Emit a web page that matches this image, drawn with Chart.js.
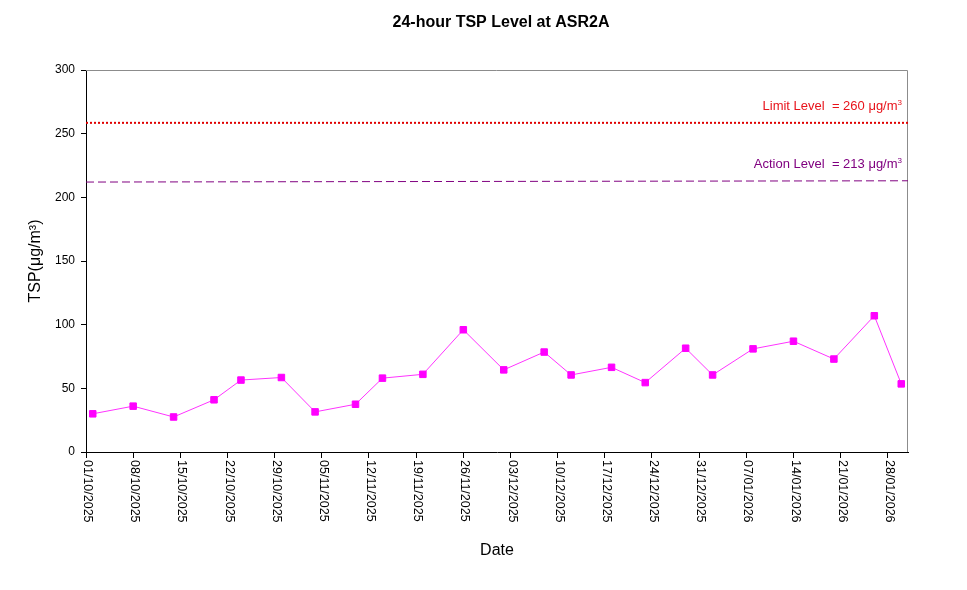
<!DOCTYPE html>
<html>
<head>
<meta charset="utf-8">
<script src="https://cdn.jsdelivr.net/npm/chart.js@4.4.1/dist/chart.umd.min.js"></script>
<style>
html,body{margin:0;padding:0;background:#fff;}
#wrap{width:967px;height:590px;position:relative;}
canvas{display:block;}
</style>
</head>
<body>
<div id="wrap"><canvas id="c" width="967" height="590" style="width:967px;height:590px;"></canvas></div>
<script>
// ---- data ----
const chartTitle = "24-hour TSP Level at ASR2A";
const xAxisTitle = "Date";
const yAxisTitle = "TSP(\u03bcg/m\u00b3)";

const sampleDates = [
  "02/10/2025","08/10/2025","14/10/2025","20/10/2025","24/10/2025","30/10/2025",
  "04/11/2025","10/11/2025","14/11/2025","20/11/2025","26/11/2025",
  "02/12/2025","08/12/2025","12/12/2025","18/12/2025","23/12/2025","29/12/2025",
  "02/01/2026","08/01/2026","14/01/2026","20/01/2026","26/01/2026","30/01/2026"
];
const tspValues = [
  30, 36, 27.5, 41, 56.5, 58.5,
  31.5, 37.5, 58, 61, 96,
  64.5, 78.5, 60.5, 66.5, 54.5, 81.5,
  60.5, 81, 87, 73, 107, 53.5
];

const tickDates = [
  "01/10/2025","08/10/2025","15/10/2025","22/10/2025","29/10/2025",
  "05/11/2025","12/11/2025","19/11/2025","26/11/2025",
  "03/12/2025","10/12/2025","17/12/2025","24/12/2025","31/12/2025",
  "07/01/2026","14/01/2026","21/01/2026","28/01/2026"
];
const axisStartDate = "01/10/2025";
const axisEndDate = "31/01/2026";

const yTickValues = [0, 50, 100, 150, 200, 250, 300];

// level lines as drawn in the picture (start / end of axis)
const limitLine = [258.5, 258.5];
const actionLine = [212, 213];
const limitLabelText = "Limit Level  = 260 \u03bcg/m";
const actionLabelText = "Action Level  = 213 \u03bcg/m";
const labelSup = "3";

// ---- helpers ----
const DAY = 86400000;
const origin = Date.UTC(2025, 9, 1);
function dayOf(s) {
  const [d, m, y] = s.split("/").map(Number);
  return Math.round((Date.UTC(y, m - 1, d) - origin) / DAY);
}
const FONT = "'Liberation Sans', Arial, Helvetica, sans-serif";
Chart.defaults.font.family = FONT;
Chart.defaults.color = "#000";

const seriesPoints = sampleDates.map((d, i) => ({ x: dayOf(d), y: tspValues[i] }));
const xMin = dayOf(axisStartDate), xMax = dayOf(axisEndDate);
const limitPoints = [{ x: xMin, y: limitLine[0] }, { x: xMax, y: limitLine[1] }];
const actionPoints = [{ x: xMin, y: actionLine[0] }, { x: xMax, y: actionLine[1] }];

function drawWithSup(ctx, text, sup, rightX, baseY, color, size) {
  ctx.save();
  ctx.fillStyle = color;
  ctx.textBaseline = "alphabetic";
  ctx.textAlign = "left";
  ctx.font = size + "px " + FONT;
  const w1 = ctx.measureText(text).width;
  ctx.font = Math.round(size * 0.65) + "px " + FONT;
  const w2 = ctx.measureText(sup).width;
  const x0 = rightX - w1 - w2;
  ctx.font = size + "px " + FONT;
  ctx.fillText(text, x0, baseY);
  ctx.font = Math.round(size * 0.65) + "px " + FONT;
  ctx.fillText(sup, x0 + w1, baseY - size * 0.4);
  ctx.restore();
}

const decor = {
  id: "decor",
  beforeDatasetsDraw(chart) {
    const { ctx, chartArea: a } = chart;
    ctx.save();
    ctx.strokeStyle = "#8c8c8c";
    ctx.lineWidth = 1;
    ctx.beginPath();
    ctx.moveTo(a.left, Math.round(a.top) + 0.5);
    ctx.lineTo(Math.round(a.right) - 0.5, Math.round(a.top) + 0.5);
    ctx.lineTo(Math.round(a.right) - 0.5, a.bottom);
    ctx.stroke();
    ctx.restore();
  },
  afterDraw(chart) {
    const { ctx, chartArea: a } = chart;
    const xs = chart.scales.x, ys = chart.scales.y;
    ctx.save();
    ctx.font = "bold 16px " + FONT;
    ctx.fillStyle = "#000";
    ctx.textAlign = "center";
    ctx.textBaseline = "alphabetic";
    ctx.fillText(chartTitle, 501, 27);
    ctx.restore();
    ctx.save();
    ctx.font = "12.5px " + FONT;
    ctx.fillStyle = "#000";
    ctx.textAlign = "left";
    ctx.textBaseline = "middle";
    tickDates.forEach(d => {
      const px = xs.getPixelForValue(dayOf(d));
      ctx.save();
      ctx.translate(px + 1.5, a.bottom + 8);
      ctx.rotate(Math.PI / 2);
      ctx.fillText(d, 0, 0);
      ctx.restore();
    });
    ctx.restore();
    const limY = ys.getPixelForValue(limitLine[1]);
    const actY = ys.getPixelForValue(actionLine[1]);
    drawWithSup(ctx, limitLabelText, labelSup, a.right - 6, limY - 13, "#e8131b", 13);
    drawWithSup(ctx, actionLabelText, labelSup, a.right - 6, actY - 13, "#800080", 13);
  }
};

new Chart(document.getElementById("c"), {
  type: "line",
  data: {
    datasets: [
      {
        label: "TSP",
        data: seriesPoints,
        borderColor: "#ff33ff",
        backgroundColor: "#ff00ff",
        borderWidth: 1,
        pointStyle: "rect",
        pointRadius: 4.6,
        pointBorderWidth: 1,
        pointBorderColor: "#ff00ff",
        pointBackgroundColor: "#ff00ff",
        tension: 0,
        order: 1
      },
      {
        label: "Limit",
        data: limitPoints,
        borderColor: "#e00000",
        borderWidth: 2,
        borderDash: [2, 2],
        pointRadius: 0,
        order: 2
      },
      {
        label: "Action",
        data: actionPoints,
        borderColor: "#800080",
        borderWidth: 1,
        borderDash: [8, 4],
        pointRadius: 0,
        order: 3
      }
    ]
  },
  options: {
    responsive: false,
    animation: false,
    devicePixelRatio: 1,
    layout: { padding: { left: 0, right: 59, top: 70, bottom: 0 } },
    plugins: {
      legend: { display: false },
      tooltip: { enabled: false },
      title: { display: false }
    },
    scales: {
      x: {
        type: "linear",
        min: xMin,
        max: xMax,
        afterBuildTicks: s => { s.ticks = tickDates.map(d => ({ value: dayOf(d) })); },
        afterFit: s => { s.height = 138; s.paddingLeft = 0; s.paddingRight = 0; },
        ticks: { display: false },
        grid: { drawOnChartArea: false, drawTicks: true, tickLength: 6, color: "#000", lineWidth: 1 },
        border: { color: "#000", width: 1 },
        title: { display: true, text: xAxisTitle, color: "#000", font: { size: 16 }, padding: { top: 0, bottom: 29.4 } }
      },
      y: {
        type: "linear",
        min: 0,
        max: 300,
        afterBuildTicks: s => { s.ticks = yTickValues.map(v => ({ value: v })); },
        afterFit: s => { s.width = 86; s.paddingTop = 0; s.paddingBottom = 0; },
        ticks: { font: { size: 12 }, color: "#000", padding: 6 },
        grid: { drawOnChartArea: false, drawTicks: true, tickLength: 5, color: "#000", lineWidth: 1 },
        border: { color: "#000", width: 1 },
        title: { display: true, text: yAxisTitle, color: "#000", font: { size: 16 }, padding: { top: 26.4, bottom: 0 } }
      }
    }
  },
  plugins: [decor]
});
</script>
</body>
</html>
